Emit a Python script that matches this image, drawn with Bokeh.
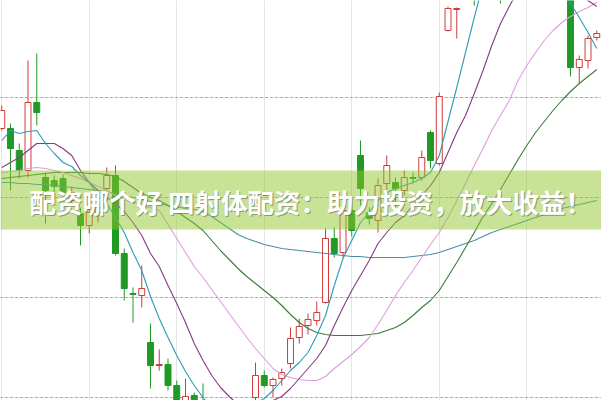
from bokeh.plotting import figure
from bokeh.models import Range1d, Span, BoxAnnotation, Label, ColumnDataSource
from bokeh.embed import file_html
from bokeh.resources import INLINE

# ---- data ----
opens = [23.45, 23.45, 22.35, 21.35, 24.75, 21.00, 20.85, 20.95, 19.85, 19.20,
         18.60, 19.25, 20.45, 21.10, 17.20, 15.20, 15.10, 12.75, 11.60, 11.65,
         10.60, 9.60, 10.10, 9.60, 8.85, 8.25, 8.60, 7.85, 8.85, 10.00,
         11.10, 10.60, 10.95, 11.70, 13.00, 13.60, 13.85, 14.75, 17.95, 17.25,
         19.35, 22.10, 19.25, 18.85, 20.70, 20.75, 20.35, 21.00, 21.00, 23.25,
         21.70, 28.35, 29.40, 30.85, 32.35, 31.10, 32.85, 33.85, 31.35, 32.85,
         34.35, 33.35, 34.85, 33.60, 32.35, 30.60, 26.50, 26.85, 28.00]
highs = [24.60, 23.70, 22.70, 26.85, 27.20, 21.25, 21.10, 21.15, 20.55, 19.50,
         19.45, 19.70, 21.50, 21.60, 17.45, 15.50, 16.60, 13.70, 12.40, 11.95,
         10.85, 10.95, 10.25, 10.70, 9.10, 8.85, 8.85, 9.15, 9.75, 11.75,
         11.35, 11.00, 11.45, 13.50, 13.95, 14.20, 14.80, 18.45, 18.50, 19.75,
         19.60, 22.85, 19.50, 20.95, 22.10, 21.00, 21.35, 21.25, 22.35, 23.35,
         25.25, 29.55, 29.50, 32.35, 32.85, 33.35, 34.35, 34.10, 33.35, 34.85,
         34.85, 35.35, 35.10, 34.10, 32.85, 30.85, 27.10, 28.10, 28.35]
lows = [23.35, 20.35, 20.95, 21.00, 23.60, 18.70, 20.10, 19.95, 19.60, 17.60,
        18.20, 18.75, 20.20, 17.10, 14.85, 13.75, 14.50, 10.45, 11.35, 10.35,
        9.10, 9.35, 9.25, 8.60, 7.85, 7.95, 7.55, 7.65, 8.65, 9.75,
        10.50, 10.00, 10.60, 11.45, 12.70, 13.15, 13.60, 14.70, 17.00, 17.00,
        18.05, 19.60, 18.65, 18.25, 20.25, 19.35, 20.10, 20.70, 20.85, 21.45,
        21.60, 28.30, 27.95, 30.35, 29.60, 30.85, 32.35, 29.70, 30.85, 32.35,
        32.85, 33.10, 33.10, 31.85, 30.60, 26.05, 25.70, 26.45, 27.85]
closes = [24.35, 22.45, 21.35, 24.75, 24.25, 20.35, 20.55, 20.25, 20.25, 18.60,
          19.25, 19.50, 21.10, 17.20, 15.45, 15.15, 15.45, 11.60, 11.65, 10.60,
          9.60, 10.05, 9.45, 8.85, 8.25, 8.60, 7.85, 8.85, 9.60, 11.10,
          10.60, 10.90, 11.25, 12.95, 13.55, 13.90, 14.25, 17.95, 17.20, 19.35,
          18.35, 20.45, 18.95, 20.60, 21.60, 20.45, 21.00, 20.95, 22.00, 21.85,
          25.05, 29.45, 29.45, 31.85, 30.85, 32.85, 33.85, 31.35, 32.85, 34.35,
          33.35, 34.85, 33.60, 32.35, 30.85, 26.50, 26.90, 27.95, 28.20]

ma5 = [22.85, 23.35, 23.20, 23.30, 23.35, 22.70, 22.20, 21.75, 21.55, 21.10,
       20.75, 20.10, 19.70, 19.00, 18.25, 17.25, 16.35, 15.05, 13.95, 13.00,
       12.10, 11.30, 10.60, 10.00, 9.45, 9.10, 8.95, 9.10, 9.35, 9.70,
       9.95, 10.35, 10.85, 11.35, 11.75, 12.25, 13.10, 14.10, 15.60, 16.95,
       17.85, 18.75, 19.25, 19.85, 20.25, 20.45, 20.60, 20.75, 20.95, 21.25,
       22.10, 23.80, 25.50, 27.25, 29.00, 30.65, 32.10, 32.85, 33.35, 33.85,
       34.10, 34.10, 33.85, 33.10, 31.85, 29.70, 29.00, 28.25, 27.45]
ma10 = [21.50, 21.75, 22.00, 22.35, 22.70, 22.70, 22.70, 22.45, 22.10, 21.35,
        20.75, 20.35, 20.00, 19.70, 19.30, 18.75, 18.10, 17.20, 16.55, 15.60,
        14.70, 13.75, 12.70, 11.85, 11.10, 10.50, 10.05, 9.65, 9.45, 9.45,
        9.65, 9.85, 10.05, 10.45, 10.95, 11.45, 11.95, 12.60, 13.60, 14.50,
        15.35, 16.10, 16.85, 17.70, 18.25, 18.75, 19.10, 19.60, 20.10, 20.60,
        21.25, 22.25, 23.25, 24.10, 25.20, 26.35, 27.60, 28.70, 29.55, 30.35,
        31.10, 31.85, 32.35, 32.35, 31.85, 31.10, 30.35, 29.85, 29.55]
ma20 = [21.25, 21.30, 21.35, 21.45, 21.50, 21.45, 21.35, 21.25, 21.10, 20.95,
        20.75, 20.55, 20.35, 20.10, 19.90, 19.75, 19.60, 19.50, 19.35, 18.65,
        17.95, 17.25, 16.55, 16.00, 15.40, 14.80, 14.20, 13.60, 13.00, 12.45,
        11.95, 11.45, 11.15, 11.00, 10.90, 10.85, 10.85, 11.05, 11.45, 11.80,
        12.15, 12.55, 13.00, 13.65, 14.35, 15.10, 15.75, 16.35, 17.00, 17.65,
        18.25, 19.00, 19.85, 20.70, 21.60, 22.45, 23.35, 24.10, 24.85, 25.85,
        26.60, 27.25, 27.85, 28.35, 28.75, 29.05, 29.30, 29.50, 29.75]
ma30 = [20.95, 21.00, 21.05, 21.10, 21.15, 21.20, 21.25, 21.25, 21.25, 21.25,
        21.20, 21.20, 21.15, 21.05, 20.80, 20.50, 20.20, 20.00, 19.85, 19.60,
        19.30, 19.00, 18.70, 18.35, 17.85, 17.35, 16.90, 16.45, 16.05, 15.70,
        15.35, 15.00, 14.60, 14.15, 13.75, 13.45, 13.25, 13.15, 13.10, 13.10,
        13.10, 13.10, 13.15, 13.20, 13.35, 13.50, 13.75, 14.10, 14.50, 14.85,
        15.35, 16.05, 16.75, 17.50, 18.25, 19.05, 19.70, 20.40, 21.15, 21.90,
        22.60, 23.25, 23.80, 24.35, 24.85, 25.30, 25.70, 26.05, 26.40]
ma60 = [20.75, 20.75, 20.70, 20.70, 20.65, 20.65, 20.60, 20.55, 20.50, 20.45,
        20.40, 20.35, 20.30, 20.20, 20.10, 20.00, 19.90, 19.80, 19.70, 19.60,
        19.55, 19.45, 19.40, 19.30, 19.05, 18.75, 18.45, 18.15, 17.95, 17.80,
        17.65, 17.55, 17.45, 17.40, 17.35, 17.30, 17.25, 17.20, 17.15, 17.10,
        17.05, 17.05, 17.00, 17.00, 17.00, 17.00, 17.00, 17.05, 17.10, 17.15,
        17.25, 17.40, 17.55, 17.70, 17.85, 18.05, 18.25, 18.40, 18.55, 18.70,
        18.85, 19.00, 19.15, 19.30, 19.45, 19.55, 19.65, 19.75, 19.85]

grid_levels = [10, 15, 20, 25]
banner_text = "配资哪个好 四射体配资：助力投资，放大收益！"

# ---- figure ----
n = len(opens)
idx = list(range(n))
up = [c >= o for o, c in zip(opens, closes)]
RED = "#d23a3a"
GREEN = "#1f9a24"

src = ColumnDataSource(dict(
    x=idx, o=opens, h=highs, l=lows, c=closes,
    mid=[(o + c) / 2 for o, c in zip(opens, closes)],
    hgt=[abs(c - o) for o, c in zip(opens, closes)],
    color=[RED if u else GREEN for u in up],
    fill=["#ffffff" if u else GREEN for u in up],
))

p = figure(width=601, height=400, output_backend="svg", toolbar_location=None,
           x_range=Range1d(-0.143, 68.54), y_range=Range1d(9.85, 29.85),
           x_axis_location=None, y_axis_location=None, min_border=0,
           background_fill_color="white", border_fill_color="white")
p.outline_line_color = None

for g in grid_levels:
    p.add_layout(Span(location=g, dimension="width", line_color="#9a9a9a",
                      line_width=1, line_dash="2 3", level="underlay"))

p.segment(x0="x", y0="l", x1="x", y1="h", color="color", line_width=1, source=src)
p.rect(x="x", y="mid", width=0.68, height="hgt", fill_color="fill",
       line_color="color", line_width=1, source=src)

p.line(idx, ma60, line_color="#4a8ea6", line_width=1.1)
p.line(idx, ma30, line_color="#3b7a3b", line_width=1.1)
p.line(idx, ma20, line_color="#e19be1", line_width=1.1)
p.line(idx, ma10, line_color="#853a85", line_width=1.1)
p.line(idx, ma5, line_color="#2a9cb5", line_width=1.1)

p.add_layout(BoxAnnotation(top=21.35, bottom=18.4, fill_color="#91c52d",
                           fill_alpha=0.5, line_color=None))

common = dict(x=35.3, y=19.8, text=banner_text, text_font="Noto Sans CJK SC",
              text_font_style="bold", text_font_size="26.5px",
              text_align="center", text_baseline="middle")
p.add_layout(Label(text_color="#555555", text_alpha=0.55, x_offset=1, y_offset=-1, **common))
p.add_layout(Label(text_color="#ffffff", **common))

open("out.html", "w").write(file_html(p, INLINE))
